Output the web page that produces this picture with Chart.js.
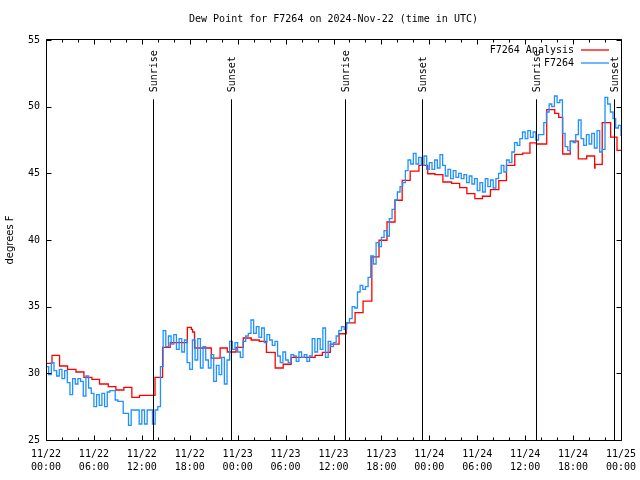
<!DOCTYPE html>
<html>
<head>
<meta charset="utf-8">
<script src="https://cdn.jsdelivr.net/npm/chart.js@4.4.1/dist/chart.umd.min.js"></script>
<style>
html,body{margin:0;padding:0;background:#fff;}
#wrap{width:640px;height:480px;}
</style>
</head>
<body>
<div id="wrap"><canvas id="c" width="640" height="480"></canvas></div>
<script>
// ---------- DATA ----------
const chartTitle = 'Dew Point for F7264 on 2024-Nov-22 (time in UTC)';
const yAxisLabel = 'degrees F';
const xTickLabels = [
  ['11/22','00:00'],['11/22','06:00'],['11/22','12:00'],['11/22','18:00'],
  ['11/23','00:00'],['11/23','06:00'],['11/23','12:00'],['11/23','18:00'],
  ['11/24','00:00'],['11/24','06:00'],['11/24','12:00'],['11/24','18:00'],
  ['11/25','00:00']
];
const seriesNames = ['F7264 Analysis', 'F7264'];

// Hours since 11/22 00:00 UTC
const sunHours  = [13.43, 23.19, 37.46, 47.1, 61.4, 71.13];
const sunLabels = ['Sunrise','Sunset','Sunrise','Sunset','Sunrise','Sunset'];

// Analysis (red), hourly steps: hour -> value
const redHours = [
  0, 0.75, 1.7, 2.7, 3.75, 4.75, 5.75, 6.7, 7.8, 8.75,
  9.75, 10.75, 11.7, 13.65, 14.6, 15.55, 17.7, 18.2, 18.35, 18.6,
  20.7, 21.8, 22.7, 23.8, 24.7, 25.7, 26.7, 27.6, 28.7, 29.7,
  30.7, 33.7, 34.6, 35.6, 36.7, 37.6, 38.7, 39.7, 40.8, 41.7,
  42.7, 43.7, 44.6, 45.6, 46.7, 47.8, 48.7, 49.7, 50.8, 51.8,
  52.7, 53.7, 54.65, 55.65, 56.7, 57.66, 58.7, 59.7, 60.6, 61.4,
  62.7, 63.7, 64.2, 64.7, 65.65, 66.65, 67.7, 68.7, 68.75, 69.65,
  70.7, 71.5, 72
];
const redValues = [
  30.75, 31.35, 30.55, 30.3, 30.1, 29.7, 29.55, 29.2, 29.0, 28.75,
  28.95, 28.2, 28.35, 29.7, 31.95, 32.3, 33.45, 33.3, 33.1, 31.9,
  31.14, 31.9, 31.6, 31.94, 32.65, 32.5, 32.4, 31.57, 30.4, 30.68,
  31.2, 31.35, 31.57, 32.19, 32.97, 33.79, 34.56, 35.41, 38.73, 39.98,
  41.35, 42.98, 44.47, 45.17, 45.6, 44.97, 44.9, 44.35, 44.25, 43.93,
  43.48, 43.1, 43.28, 43.78, 44.45, 45.6, 46.42, 46.52, 47.28, 47.2,
  49.78, 49.5, 49.2, 46.45, 47.42, 46.08, 46.3, 45.4, 45.67, 48.8,
  47.72, 46.72, 46.72
];

// Observations (blue), one reading every 20 minutes from 11/22 00:00
const blueStepHours = 1 / 3;
const blueValues = [
  30.5, 29.9, 30.8,  30.2, 29.8, 30.3,  29.6, 30.2, 29.3,  28.4, 29.6, 29.2,   // h0-3
  29.6, 29.4, 28.3,  29.8, 28.9, 28.5,  27.5, 28.4, 27.6,  28.5, 27.5, 28.6,   // h4-7
  28.7, 28.7, 28.0,  27.9, 27.9, 27.0,  27.0, 26.1, 27.25, 27.25, 27.25, 26.2, // h8-11
  27.25, 26.2, 27.25, 27.25, 26.2, 27.25, 27.5, 30.5, 33.2, 32.0, 32.8, 32.2,  // h12-15
  32.9, 31.8, 32.6,  31.6, 32.5, 30.8,  30.3, 32.5, 31.0,  32.6, 30.4, 32.0,   // h16-19
  31.0, 30.4, 31.4,  29.4, 30.6, 29.9,  31.2, 29.2, 31.0,  32.4, 31.8, 32.3,   // h20-23
  31.6, 31.2, 32.4,  32.8, 33.0, 34.0,  33.0, 33.5, 32.7,  33.4, 32.3, 32.9,   // h24-27
  32.5, 32.1, 32.4,  31.3, 30.8, 31.6,  31.0, 30.8, 31.4,  31.3, 30.9, 31.6,   // h28-31
  31.2, 31.4, 30.9,  31.3, 32.6, 31.6,  32.6, 31.8, 33.4,  31.2, 32.4, 32.0,   // h32-35
  32.3, 32.8, 33.2,  33.5, 33.3, 33.8,  34.1, 35.0, 34.9,  36.1, 36.6, 36.3,   // h36-39
  36.5, 37.2, 38.8,  38.2, 39.8, 39.5,  40.2, 40.7, 40.3,  41.6, 42.3, 43.0,   // h40-43
  43.6, 44.0, 44.3,  45.2, 46.0, 45.7,  46.5, 45.7, 46.2,  45.6, 46.3, 45.3,   // h44-47
  45.8, 45.3, 46.0,  45.4, 46.4, 45.6,  44.8, 45.3, 44.6,  45.2, 44.7, 45.0,   // h48-51
  44.6, 44.9, 44.3,  44.8, 44.2, 44.6,  43.7, 44.3, 43.6,  44.6, 44.0, 44.5,   // h52-55
  43.9, 44.6, 45.0,  45.6, 45.1, 46.0,  45.8, 46.6, 47.3,  47.1, 47.6, 48.1,   // h56-59
  47.6, 48.2, 47.7,  48.1, 47.5, 47.9,  47.9, 48.8, 49.6,  50.2, 50.0, 50.8,   // h60-63
  50.3, 50.5, 48.0,  47.0, 46.7, 47.4,  47.3, 47.9, 49.0,  47.6, 47.1, 47.9,   // h64-67
  47.2, 48.0, 46.9,  48.2, 46.6, 46.8,  50.7, 50.2, 49.6,  49.1, 48.4, 48.6,   // h68-71
  47.8                                                                          // h72
];

// ---------- BUILD ----------
const redPts = redHours.map((h, i) => ({x: h, y: redValues[i]}));
const bluePts = blueValues.map((v, i) => ({x: i * blueStepHours, y: v}));

const MONO = "'DejaVu Sans Mono', monospace";
const SANS = "'DejaVu Sans', sans-serif";

const decor = {
  id: 'decor',
  afterDatasetsDraw(chart) {
    const {ctx, chartArea: a, scales: {x, y}} = chart;
    ctx.save();
    ctx.strokeStyle = '#000';
    ctx.lineWidth = 1;
    const L = Math.round(a.left) + 0.5, R = Math.round(a.right) + 0.5;
    const T = Math.round(a.top) - 0.5, B = Math.round(a.bottom) + 0.5;
    ctx.beginPath();
    ctx.rect(L, T, R - L, B - T);
    // x ticks (inward, mirrored)
    for (let h = 0; h <= 72; h += 2) {
      const px = Math.round(x.getPixelForValue(h)) + 0.5;
      const len = (h % 6 === 0) ? 5 : 3;
      ctx.moveTo(px, B); ctx.lineTo(px, B - len);
      ctx.moveTo(px, T); ctx.lineTo(px, T + len);
    }
    // y ticks (inward, mirrored)
    for (let v = 25; v <= 55; v += 5) {
      const py = Math.round(y.getPixelForValue(v)) + 0.5;
      ctx.moveTo(L, py); ctx.lineTo(L + 5, py);
      ctx.moveTo(R, py); ctx.lineTo(R - 5, py);
    }
    ctx.stroke();

    // sunrise / sunset markers
    const topY = y.getPixelForValue(50.55);
    ctx.beginPath();
    sunHours.forEach(h => {
      const px = Math.round(x.getPixelForValue(h)) + 0.5;
      ctx.moveTo(px, B); ctx.lineTo(px, topY);
    });
    ctx.stroke();
    ctx.fillStyle = '#000';
    ctx.font = '10px ' + MONO;
    ctx.textAlign = 'left';
    ctx.textBaseline = 'middle';
    sunHours.forEach((h, i) => {
      const px = Math.round(x.getPixelForValue(h)) + 1;
      ctx.save();
      ctx.translate(px, topY - 7);
      ctx.rotate(-Math.PI / 2);
      ctx.fillText(sunLabels[i], 0, 0);
      ctx.restore();
    });

    // legend (gnuplot style, top right)
    const colors = ['#ff0000', '#1e90ff'];
    ctx.textAlign = 'right';
    seriesNames.forEach((name, i) => {
      const ly = a.top + 10 + i * 13;
      ctx.fillStyle = '#000';
      ctx.fillText(name, a.right - 47, ly + 0.5);
      ctx.strokeStyle = colors[i];
      ctx.lineWidth = 1.3;
      ctx.beginPath();
      ctx.moveTo(a.right - 40, Math.round(ly));
      ctx.lineTo(a.right - 12, Math.round(ly));
      ctx.stroke();
    });
    ctx.restore();
  }
};

new Chart(document.getElementById('c'), {
  type: 'line',
  data: {
    datasets: [
      {label: seriesNames[1], data: bluePts, borderColor: '#1e90ff', borderWidth: 1.3,
       stepped: true, pointRadius: 0, fill: false, tension: 0},
      {label: seriesNames[0], data: redPts, borderColor: '#ff0000', borderWidth: 1.3,
       stepped: true, pointRadius: 0, fill: false, tension: 0}
    ]
  },
  options: {
    responsive: false,
    animation: false,
    devicePixelRatio: 1,
    layout: {padding: {top: 13, right: 19, left: 0, bottom: 0}},
    plugins: {
      legend: {display: false},
      tooltip: {enabled: false},
      title: {
        display: true, text: chartTitle, color: '#000', fullSize: false,
        font: {family: MONO, size: 10, weight: 'normal'},
        padding: {top: 0, bottom: 15}
      }
    },
    scales: {
      x: {
        type: 'linear', min: 0, max: 72,
        afterFit(s) { s.height = 40; s.paddingLeft = 0; s.paddingRight = 0; },
        grid: {display: false, drawTicks: false},
        border: {display: false},
        ticks: {
          stepSize: 6, autoSkip: false, maxRotation: 0, minRotation: 0, padding: 8,
          color: '#000', font: {family: MONO, size: 10, lineHeight: 1.3},
          callback: (v, i) => xTickLabels[i]
        }
      },
      y: {
        min: 25, max: 55,
        afterFit(s) { s.width = 46; s.paddingTop = 0; s.paddingBottom = 0; },
        grid: {display: false, drawTicks: false},
        border: {display: false},
        ticks: {stepSize: 5, padding: 6, color: '#000', font: {family: MONO, size: 10}},
        title: {display: true, text: yAxisLabel, color: '#000',
                font: {family: SANS, size: 10}, padding: {top: 4, bottom: 0}}
      }
    }
  },
  plugins: [decor]
});
</script>
</body>
</html>
